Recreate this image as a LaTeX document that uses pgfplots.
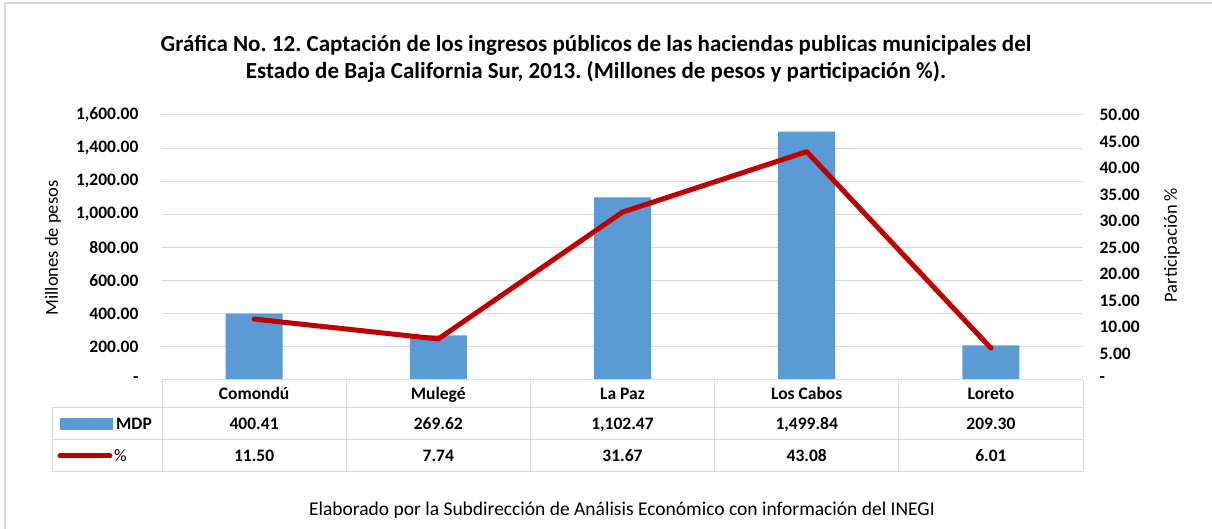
\documentclass[border=0pt]{standalone}
\usepackage{pgfplots}
\pgfplotsset{compat=1.18}
\usepackage{fontspec}
\setmainfont{Carlito}
\frenchspacing
\definecolor{barblue}{HTML}{5B9BD5}
\definecolor{linered}{HTML}{C00000}
\definecolor{gridgray}{HTML}{D9D9D9}
\newcommand{\tickfont}{\fontsize{17.5}{20}\selectfont\bfseries}
\begin{document}
\begin{tikzpicture}[x=1pt,y=1pt]
\path[use as bounding box] (0,0) rectangle (1212,529);
\fill[white] (0,0) rectangle (1212,529);
\draw[gridgray, line width=1.5pt] (5,0) -- (5,526) -- (1212,526);

\begin{axis}[
 at={(162pt,149pt)}, anchor=south west,
 scale only axis, width=921pt, height=265pt,
 xmin=-0.5, xmax=4.5, ymin=0, ymax=1600,
 axis line style={draw=none},
 xtick=\empty,
 ytick={0,200,...,1600},
 yticklabels={-,200.00,400.00,600.00,800.00,{1,000.00},{1,200.00},{1,400.00},{1,600.00}},
 yticklabel style={font=\tickfont, anchor=east, xshift=-20pt},
 ymajorgrids, major grid style={gridgray, line width=1pt},
 major tick length=0pt,
 ybar, bar width=57pt,
 clip=false,
]
\addplot[fill=barblue, draw=none] coordinates {(0,400.41) (1,269.62) (2,1102.47) (3,1499.84) (4,209.30)};
\end{axis}

\begin{axis}[
 at={(162pt,149pt)}, anchor=south west,
 scale only axis, width=921pt, height=265pt,
 xmin=-0.5, xmax=4.5, ymin=0, ymax=50,
 axis y line*=right, axis x line=none,
 axis line style={draw=none},
 ytick={0,5,...,50},
 yticklabels={-,5.00,10.00,15.00,20.00,25.00,30.00,35.00,40.00,45.00,50.00},
 yticklabel style={font=\tickfont, anchor=west, xshift=13pt},
 major tick length=0pt,
 clip=false,
]
\addplot[linered, line width=5pt, line cap=round, line join=round] coordinates {(0,11.50) (1,7.74) (2,31.67) (3,43.08) (4,6.01)};
\end{axis}

% data table
\draw[gridgray, line width=1pt] (162,149) -- (1083,149);
\draw[gridgray, line width=1pt] (52,121) -- (1083,121);
\draw[gridgray, line width=1pt] (52,89) -- (1083,89);
\draw[gridgray, line width=1pt] (52,57) -- (1083,57);
\draw[gridgray, line width=1pt] (52,121) -- (52,57);
\foreach \xx in {162,346.2,530.4,714.6,898.8,1083} {\draw[gridgray, line width=1pt] (\xx,149) -- (\xx,57);}
\fill[barblue] (60,99) rectangle (113,111);
\node[anchor=base west, font=\tickfont, inner sep=0pt] at (116,99) {MDP};
\draw[linered, line width=5pt, line cap=round] (60,73) -- (110,73);
\node[anchor=base west, font=\fontsize{17.5}{20}\selectfont, inner sep=0pt] at (114,67) {\%};
\begin{scope}[every node/.style={font=\tickfont, anchor=base, inner sep=0pt}]
\node at (254.1,129) {Comondú};
\node at (438.3,129) {Mulegé};
\node at (622.5,129) {La Paz};
\node at (806.7,129) {Los Cabos};
\node at (990.9,129) {Loreto};
\node at (254.1,99) {400.41};
\node at (438.3,99) {269.62};
\node at (622.5,99) {1,102.47};
\node at (806.7,99) {1,499.84};
\node at (990.9,99) {209.30};
\node at (254.1,67) {11.50};
\node at (438.3,67) {7.74};
\node at (622.5,67) {31.67};
\node at (806.7,67) {43.08};
\node at (990.9,67) {6.01};
\end{scope}

\node[rotate=90, font=\fontsize{18.5}{21}\selectfont] at (53,281) {Millones de pesos};
\node[rotate=90, font=\fontsize{18.5}{21}\selectfont] at (1172,284) {Participación \%};

\node[font=\fontsize{23}{27}\selectfont\bfseries, anchor=base] at (596,477) {Gráfica No. 12. Captación de los ingresos públicos de las haciendas publicas municipales del};
\node[font=\fontsize{23}{27}\selectfont\bfseries, anchor=base] at (596,450) {Estado de Baja California Sur, 2013. (Millones de pesos y participación \%).};
\node[font=\fontsize{19.5}{22}\selectfont, anchor=base] at (622,13) {Elaborado por la Subdirección de Análisis Económico con información del INEGI};
\end{tikzpicture}
\end{document}
